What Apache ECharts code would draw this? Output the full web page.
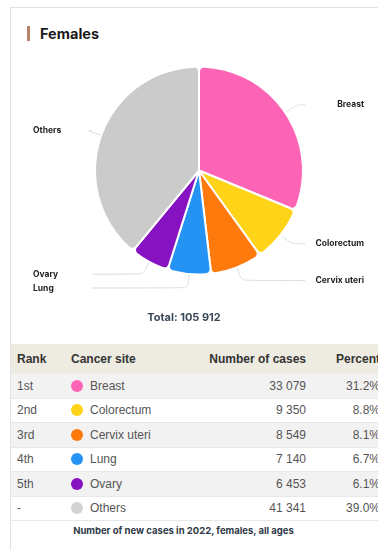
<!DOCTYPE html>
<html>
<head>
<meta charset="utf-8">
<script src="https://cdn.jsdelivr.net/npm/echarts@6/dist/echarts.min.js"></script>
<style>
  html, body { margin: 0; padding: 0; background: #fff; width: 378px; height: 550px; overflow: hidden; }
  .card { position: absolute; left: 10px; top: 7px; width: 400px; height: 560px; border-top: 1px solid #e3e3e3; border-left: 1px solid #e3e3e3; }
  .head { position: absolute; left: 27px; top: 25px; font-family: Inter, 'Noto Sans', sans-serif; font-weight: 700; font-size: 14.5px; color: #1a1a1a; }
  .head .bar { display: inline-block; width: 3px; height: 15px; background: #b8856c; vertical-align: -2px; margin-right: 10px; }
  #chart { position: absolute; left: 10px; top: 0; width: 377px; height: 335px; }
  table { position: absolute; left: 11px; top: 344px; width: 375px; border-collapse: collapse; table-layout: fixed; font-family: 'Liberation Sans', Arial, sans-serif; font-size: 12px; color: #555; }
  th { background: #eeece2; color: #333; font-weight: 700; height: 30px; text-align: left; padding: 0; white-space: nowrap; }
  td { height: 23.5px; padding: 0; border-bottom: 1px solid #e8e8e8; white-space: nowrap; }
  tr:nth-child(odd) td { background: #f2f2f2; }
  .c1 { padding-left: 6px; }
  .c2 { padding-left: 5px; }
  .c3 { text-align: right; padding-right: 5px; }
  .c4 { text-align: right; padding-right: 6px; }
  .dot { display: inline-block; width: 12px; height: 12px; border-radius: 50%; vertical-align: -2px; margin-right: 7px; }
  .foot { position: absolute; left: 11px; top: 525px; width: 345px; text-align: center; font-family: Inter, 'Noto Sans', sans-serif; font-weight: 700; font-size: 9.5px; color: #2f3a48; }
</style>
</head>
<body>
<div class="card"></div>
<div class="head"><span class="bar"></span>Females</div>
<div id="chart"></div>
<table id="tbl">
  <colgroup><col style="width:55px"><col style="width:130px"><col style="width:115px"><col style="width:75px"></colgroup>
  <thead><tr><th class="c1">Rank</th><th class="c2">Cancer site</th><th class="c3">Number of cases</th><th class="c4">Percent</th></tr></thead>
  <tbody></tbody>
</table>
<div class="foot">Number of new cases in 2022, females, all ages</div>
<script>
// 数据
const ranks = ['1st', '2nd', '3rd', '4th', '5th', '-']
const sites = ['Breast', 'Colorectum', 'Cervix uteri', 'Lung', 'Ovary', 'Others']
const cases = [33079, 9350, 8549, 7140, 6453, 41341]
const percents = [31.2, 8.8, 8.1, 6.7, 6.1, 39.0]
const colors = ['#fd64b6', '#ffd317', '#ff7a0c', '#2493f3', '#8612c2', '#cbcbcb']
const total = 105912

const fmt = (n) => String(n).replace(/\B(?=(\d{3})+(?!\d))/g, ' ')

// 表格
const tbody = document.querySelector('#tbl tbody')
sites.forEach((s, i) => {
  const tr = document.createElement('tr')
  tr.innerHTML =
    '<td class="c1">' + ranks[i] + '</td>' +
    '<td class="c2"><span class="dot" style="background:' + (i === 5 ? '#d3d3d3' : colors[i]) + '"></span>' + s + '</td>' +
    '<td class="c3">' + fmt(cases[i]) + '</td>' +
    '<td class="c4">' + percents[i].toFixed(1) + '%</td>'
  tbody.appendChild(tr)
})

// 饼图
const chart = echarts.init(document.getElementById('chart'))
const pieCenter = [189, 170.5]
const option = {
  animation: false,
  graphic: [
    {
      type: 'text',
      x: 174,
      y: 318,
      style: {
        text: 'Total: ' + fmt(total),
        font: '700 11px Inter, "Noto Sans", sans-serif',
        fill: '#3a4859',
        align: 'center',
        verticalAlign: 'middle'
      }
    }
  ],
  series: [
    {
      type: 'pie',
      center: pieCenter,
      radius: 104,
      startAngle: 90,
      itemStyle: {
        borderColor: '#fff',
        borderWidth: 2,
        borderRadius: 5
      },
      label: {
        alignTo: 'edge',
        edgeDistance: 23,
        distanceToLabelLine: 6,
        padding: [0, 0, 6, 0],
        fontFamily: 'Inter, "Noto Sans", sans-serif',
        fontWeight: 700,
        fontSize: 8.5,
        color: '#1e1e1e',
        formatter: '{b}'
      },
      labelLine: {
        length: 14,
        length2: 15,
        smooth: 0.2,
        lineStyle: { color: '#dcdcdc', width: 1 }
      },
      // 引导线末端统一对齐
      labelLayout: function (params) {
        const pts = params.labelLinePoints
        if (!pts) return {}
        const isLeft = pts[0][0] < pieCenter[0]
        const endX = isLeft ? 82 : 295
        return {
          labelLinePoints: [pts[0], pts[1], [endX, pts[2][1]]]
        }
      },
      data: sites.map((s, i) => ({ name: s, value: cases[i], itemStyle: { color: colors[i] } }))
    }
  ]
}
chart.setOption(option)
</script>
</body>
</html>
